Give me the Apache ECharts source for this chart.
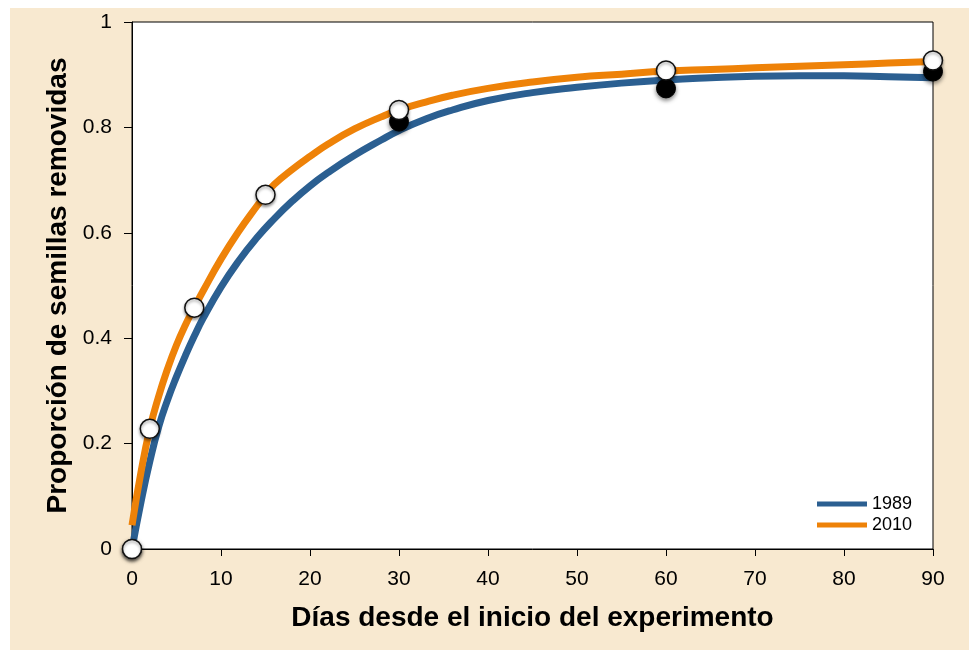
<!DOCTYPE html>
<html>
<head>
<meta charset="utf-8">
<script src="https://cdn.jsdelivr.net/npm/echarts@6/dist/echarts.min.js"></script>
<style>
  html, body { margin: 0; padding: 0; background: #ffffff; }
  #chart { width: 969px; height: 650px; }
</style>
</head>
<body>
<div id="chart"></div>
<script>
// Fitted curve readings
const curveX1989 = [0, 1, 2, 3, 4, 5, 6, 7, 8, 10, 12, 14, 16, 18, 20, 22, 25, 28, 30, 33, 36, 40, 45, 50, 55, 60, 65, 70, 75, 80, 85, 90];
const curveY1989 = [0, 0.088, 0.166, 0.232, 0.283, 0.327, 0.367, 0.404, 0.438, 0.497, 0.547, 0.590, 0.627, 0.660, 0.689, 0.714, 0.747, 0.776, 0.794, 0.816, 0.833, 0.851, 0.866, 0.876, 0.884, 0.890, 0.894, 0.897, 0.898, 0.898, 0.896, 0.894];
const curveX2010 = [0, 1, 2, 3, 4, 5, 6, 7, 8, 10, 12, 14, 15, 16, 18, 20, 22, 25, 28, 30, 33, 36, 40, 45, 50, 55, 60, 65, 70, 75, 80, 85, 90];
const curveY2010 = [0.045, 0.145, 0.228, 0.29, 0.342, 0.387, 0.425, 0.458, 0.49, 0.55, 0.603, 0.65, 0.672, 0.692, 0.72, 0.745, 0.768, 0.797, 0.82, 0.833, 0.848, 0.861, 0.874, 0.886, 0.895, 0.901, 0.907, 0.910, 0.913, 0.916, 0.919, 0.922, 0.925];
// Observed points
const obsX1989 = [0, 30, 60, 90];
const obsY1989 = [0, 0.811, 0.874, 0.906];
const obsX2010 = [0, 2, 7, 15, 30, 60, 90];
const obsY2010 = [0, 0.228, 0.458, 0.672, 0.833, 0.908, 0.927];
const xTicks = ['0', '10', '20', '30', '40', '50', '60', '70', '80', '90'];
const yTicks = ['0', '0.2', '0.4', '0.6', '0.8', '1'];
const seriesNames = ['1989', '2010'];

const zip = (xs, ys) => xs.map((x, i) => [x, ys[i]]);
const chart = echarts.init(document.getElementById('chart'), null, { renderer: 'canvas' });
const FONT = 'Liberation Sans, Arial, sans-serif';
const BLUE = '#2B5F91';
const ORANGE = '#EE8208';

chart.setOption({
  backgroundColor: '#ffffff',
  animation: false,
  graphic: [{
    type: 'rect', z: -10, silent: true,
    shape: { x: 10, y: 8, width: 959, height: 642 },
    style: { fill: '#F8E9D0' }
  }],
  grid: {
    left: 132, right: 36, top: 22, bottom: 101,
    show: true, backgroundColor: '#ffffff', borderColor: '#000', borderWidth: 1
  },
  legend: {
    data: [{ name: seriesNames[0], icon: 'rect' }, { name: seriesNames[1], icon: 'rect' }],
    orient: 'vertical',
    left: 812, top: 490,
    itemWidth: 50, itemHeight: 5, itemGap: 3,
    textStyle: { fontFamily: FONT, fontSize: 18, color: '#000', padding: [0, 0, 0, 0] }
  },
  xAxis: {
    type: 'value', min: 0, max: 90, interval: 10,
    name: 'Días desde el inicio del experimento',
    nameLocation: 'middle', nameGap: 55,
    nameTextStyle: { fontFamily: FONT, fontSize: 28, fontWeight: 'bold', color: '#000' },
    axisLine: { show: true, lineStyle: { color: '#000', width: 1 } },
    axisTick: { show: true, length: 7, lineStyle: { color: '#000' } },
    axisLabel: { fontFamily: FONT, fontSize: 21, color: '#000', margin: 20,
      formatter: (v) => xTicks[Math.round(v / 10)] },
    splitLine: { show: false }
  },
  yAxis: {
    type: 'value', min: 0, max: 1, interval: 0.2,
    name: 'Proporción de semillas removidas',
    nameLocation: 'middle', nameGap: 58, nameRotate: 90,
    nameTextStyle: { fontFamily: FONT, fontSize: 28, fontWeight: 'bold', color: '#000' },
    axisLine: { show: true, lineStyle: { color: '#000', width: 1 } },
    axisTick: { show: true, length: 8, lineStyle: { color: '#000' } },
    axisLabel: { fontFamily: FONT, fontSize: 21, color: '#000', margin: 20,
      formatter: (v) => yTicks[Math.round(v / 0.2)] },
    splitLine: { show: false }
  },
  series: [
    {
      name: seriesNames[0], type: 'line', smooth: 0.5, showSymbol: false,
      data: zip(curveX1989, curveY1989),
      lineStyle: { color: BLUE, width: 7 }, itemStyle: { color: BLUE }, z: 2
    },
    {
      name: seriesNames[1], type: 'line', smooth: 0.5, showSymbol: false,
      data: zip(curveX2010, curveY2010),
      lineStyle: { color: ORANGE, width: 7 }, itemStyle: { color: ORANGE }, z: 3
    },
    {
      name: 'obs1989', type: 'scatter', symbolSize: 19, clip: false,
      data: zip(obsX1989, obsY1989),
      itemStyle: { color: '#000', opacity: 1, borderColor: '#000', borderWidth: 1,
        shadowBlur: 4, shadowColor: 'rgba(0,0,0,0.5)', shadowOffsetY: 2 }, z: 4
    },
    {
      name: 'obs2010', type: 'scatter', symbolSize: 19, clip: false,
      data: zip(obsX2010, obsY2010),
      itemStyle: { color: '#fff', opacity: 1, borderColor: '#111', borderWidth: 1.5,
        shadowBlur: 3, shadowColor: 'rgba(0,0,0,0.4)', shadowOffsetY: 2 }, z: 5
    }
  ]
});
</script>
</body>
</html>
